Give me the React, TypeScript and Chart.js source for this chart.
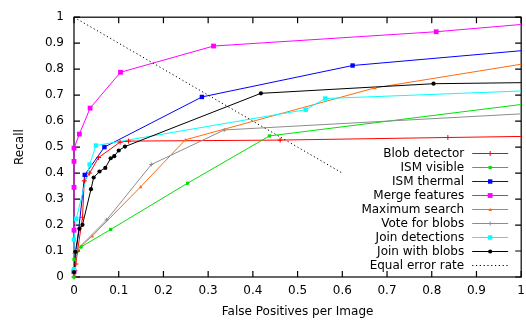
import React, { useEffect, useRef } from 'react';
import { Chart, registerables } from 'chart.js';

Chart.register(...registerables);

// ---- data ----
const seriesLabels = [
  'Blob detector',
  'ISM visible',
  'ISM thermal',
  'Merge features',
  'Maximum search',
  'Vote for blobs',
  'Join detections',
  'Join with blobs',
  'Equal error rate',
];

const blobX = [0, 0.002, 0.004, 0.008, 0.019, 0.023, 0.035, 0.055, 0.103, 0.122, 0.461, 0.836, 1];
const blobY = [0, 0.024, 0.05, 0.1, 0.23, 0.37, 0.4, 0.46, 0.519, 0.523, 0.527, 0.537, 0.541];

const ismVisX = [0, 0, 0.016, 0.082, 0.254, 0.437, 1];
const ismVisY = [0, 0.068, 0.116, 0.183, 0.361, 0.543, 0.664];

const ismThX = [0, 0.024, 0.068, 0.286, 0.623, 1];
const ismThY = [0.02, 0.393, 0.5, 0.693, 0.814, 0.871];

const mergeX = [0, 0, 0, 0, 0, 0.012, 0.036, 0.104, 0.312, 0.81, 1];
const mergeY = [0.02, 0.18, 0.345, 0.445, 0.496, 0.55, 0.65, 0.788, 0.889, 0.944, 0.972];

const maxSearchX = [0, 0, 0.041, 0.149, 0.249, 0.673, 1];
const maxSearchY = [0.02, 0.095, 0.158, 0.347, 0.528, 0.728, 0.819];

const voteX = [0, 0.007, 0.073, 0.173, 0.336, 1];
const voteY = [0.02, 0.106, 0.22, 0.433, 0.566, 0.628];

const joinDetX = [0, 0, 0.005, 0.035, 0.049, 0.518, 0.562, 1];
const joinDetY = [0.03, 0.144, 0.224, 0.433, 0.506, 0.644, 0.687, 0.716];

const joinBlobX = [0, 0.003, 0.012, 0.019, 0.038, 0.044, 0.057, 0.07, 0.082, 0.09, 0.1, 0.114, 0.418, 0.804, 1];
const joinBlobY = [0.019, 0.097, 0.186, 0.201, 0.338, 0.383, 0.406, 0.42, 0.457, 0.465, 0.487, 0.502, 0.707, 0.744, 0.748];

const eerX = [0, 0.6];
const eerY = [1, 0.4];

const xTickLabels = ['0', '0.1', '0.2', '0.3', '0.4', '0.5', '0.6', '0.7', '0.8', '0.9', '1'];
const yTickLabels = ['0', '0.1', '0.2', '0.3', '0.4', '0.5', '0.6', '0.7', '0.8', '0.9', '1'];

const xTitle = 'False Positives per Image';
const yTitle = 'Recall';

const FONT = 'DejaVu Sans';

const zip = (xs: number[], ys: number[]) => xs.map((x, i) => ({ x, y: ys[i] }));

function drawMarker(ctx: CanvasRenderingContext2D, style: string, x: number, y: number, r: number, color: string) {
  ctx.save();
  ctx.fillStyle = color;
  ctx.strokeStyle = color;
  ctx.lineWidth = 1;
  ctx.setLineDash([]);
  ctx.beginPath();
  if (style === 'rect') {
    ctx.fillRect(x - r, y - r, 2 * r, 2 * r);
  } else if (style === 'circle') {
    ctx.arc(x, y, r, 0, Math.PI * 2);
    ctx.fill();
  } else if (style === 'cross') {
    ctx.moveTo(x - r, y);
    ctx.lineTo(x + r, y);
    ctx.moveTo(x, y - r);
    ctx.lineTo(x, y + r);
    ctx.stroke();
  } else if (style === 'triangle') {
    ctx.moveTo(x, y - r);
    ctx.lineTo(x + r, y + r * 0.8);
    ctx.lineTo(x - r, y + r * 0.8);
    ctx.closePath();
    ctx.fill();
  }
  ctx.restore();
}

const framePlugin = {
  id: 'gnuFrame',
  beforeDatasetsDraw(chart: any) {
    const { ctx, chartArea } = chart;
    const { left, right, top, bottom } = chartArea;
    const xs = chart.scales.x;
    const ys = chart.scales.y;
    ctx.save();
    ctx.strokeStyle = '#000';
    ctx.lineWidth = 1.2;
    ctx.setLineDash([]);
    ctx.beginPath();
    xs.ticks.forEach((t: any) => {
      const px = xs.getPixelForValue(t.value);
      ctx.moveTo(px, bottom);
      ctx.lineTo(px, bottom - 6);
      ctx.moveTo(px, top);
      ctx.lineTo(px, top + 6);
    });
    ys.ticks.forEach((t: any) => {
      const py = ys.getPixelForValue(t.value);
      ctx.moveTo(left, py);
      ctx.lineTo(left + 6, py);
      ctx.moveTo(right, py);
      ctx.lineTo(right - 6, py);
    });
    ctx.stroke();
    ctx.strokeRect(left, top, right - left, bottom - top);
    ctx.restore();
  },
};

const legendPlugin = {
  id: 'gnuLegend',
  afterDraw(chart: any) {
    const { ctx, chartArea } = chart;
    const textRight = chartArea.right - 57;
    const l0 = chartArea.right - 49;
    const l1 = chartArea.right - 13;
    const y0 = chartArea.bottom - 123.5;
    const rowH = 14;
    ctx.save();
    ctx.font = `12px "${FONT}"`;
    ctx.textAlign = 'right';
    ctx.textBaseline = 'middle';
    chart.data.datasets.forEach((ds: any, i: number) => {
      const y = y0 + i * rowH;
      ctx.fillStyle = '#000';
      ctx.fillText(ds.label, textRight, y);
      ctx.strokeStyle = ds.borderColor;
      ctx.lineWidth = ds.borderWidth;
      ctx.setLineDash(ds.borderDash || []);
      ctx.beginPath();
      ctx.moveTo(l0, y);
      ctx.lineTo(l1, y);
      ctx.stroke();
      if (ds.markerRadius > 0) {
        drawMarker(ctx, ds.pointStyle, (l0 + l1) / 2, y, ds.markerRadius, ds.borderColor);
      }
    });
    ctx.restore();
  },
};

const markerPlugin = {
  id: 'gnuMarkers',
  afterDatasetsDraw(chart: any) {
    const { ctx } = chart;
    chart.data.datasets.forEach((ds: any, i: number) => {
      if (!(ds.markerRadius > 0)) return;
      const meta = chart.getDatasetMeta(i);
      meta.data.forEach((pt: any, j: number) => {
        const raw = ds.data[j];
        if (raw.x >= 1) return;
        drawMarker(ctx, ds.pointStyle, pt.x, pt.y, ds.markerRadius, ds.borderColor);
      });
    });
  },
};

const seriesXs = [blobX, ismVisX, ismThX, mergeX, maxSearchX, voteX, joinDetX, joinBlobX, eerX];
const seriesYs = [blobY, ismVisY, ismThY, mergeY, maxSearchY, voteY, joinDetY, joinBlobY, eerY];
const seriesColors = ['#ff0000', '#00e000', '#0000ff', '#ff00ff', '#ff6a10', '#8c8c8c', '#00ffff', '#000000', '#000000'];
const seriesMarkers = ['cross', 'rect', 'rect', 'rect', 'triangle', 'cross', 'rect', 'circle', 'none'];
const seriesMarkerR = [2.5, 1.6, 2.2, 2.4, 1.8, 2, 2.2, 2.1, 0];

export default function App() {
  const ref = useRef<HTMLCanvasElement | null>(null);

  useEffect(() => {
    if (!ref.current) return;
    const n = seriesLabels.length;
    const datasets: any[] = seriesLabels.map((label, i) => ({
      label,
      data: zip(seriesXs[i], seriesYs[i]),
      borderColor: seriesColors[i],
      backgroundColor: seriesColors[i],
      borderWidth: 1,
      borderDash: i === n - 1 ? [1.2, 2.6] : [],
      pointRadius: 0,
      pointHoverRadius: 0,
      pointStyle: seriesMarkers[i],
      markerRadius: seriesMarkerR[i],
      tension: 0,
      clip: false,
      order: n - i,
    }));

    const font = { family: FONT, size: 12 };
    const chart = new Chart(ref.current, {
      type: 'line',
      data: { datasets },
      options: {
        animation: false,
        responsive: false,
        events: [],
        layout: { padding: { top: 14, right: 8, left: 0, bottom: 0 } },
        plugins: { legend: { display: false }, tooltip: { enabled: false } },
        scales: {
          x: {
            type: 'linear',
            min: 0,
            max: 1,
            afterFit: (s: any) => {
              s.height = 43;
            },
            ticks: {
              stepSize: 0.1,
              autoSkip: false,
              maxRotation: 0,
              padding: 7,
              color: '#000',
              font,
              callback: (_v: any, i: number) => xTickLabels[i],
            },
            grid: { display: false, drawTicks: false },
            border: { display: false },
            title: { display: true, text: xTitle, color: '#000', font, padding: { top: 0, bottom: 1 } },
          },
          y: {
            type: 'linear',
            min: 0,
            max: 1,
            afterFit: (s: any) => {
              s.width = 74;
            },
            ticks: {
              stepSize: 0.1,
              autoSkip: false,
              padding: 10,
              color: '#000',
              font,
              callback: (_v: any, i: number) => yTickLabels[i],
            },
            grid: { display: false, drawTicks: false },
            border: { display: false },
            title: { display: true, text: yTitle, color: '#000', font, padding: { top: 13, bottom: 0 } },
          },
        },
      },
      plugins: [framePlugin, markerPlugin, legendPlugin],
    } as any);
    return () => chart.destroy();
  }, []);

  return (
    <div style={{ position: 'fixed', left: 0, top: 0, width: 526, height: 320, overflow: 'hidden', background: '#fff' }}>
      <canvas ref={ref} width={532} height={320} style={{ display: 'block', width: 532, height: 320 }} />
    </div>
  );
}
